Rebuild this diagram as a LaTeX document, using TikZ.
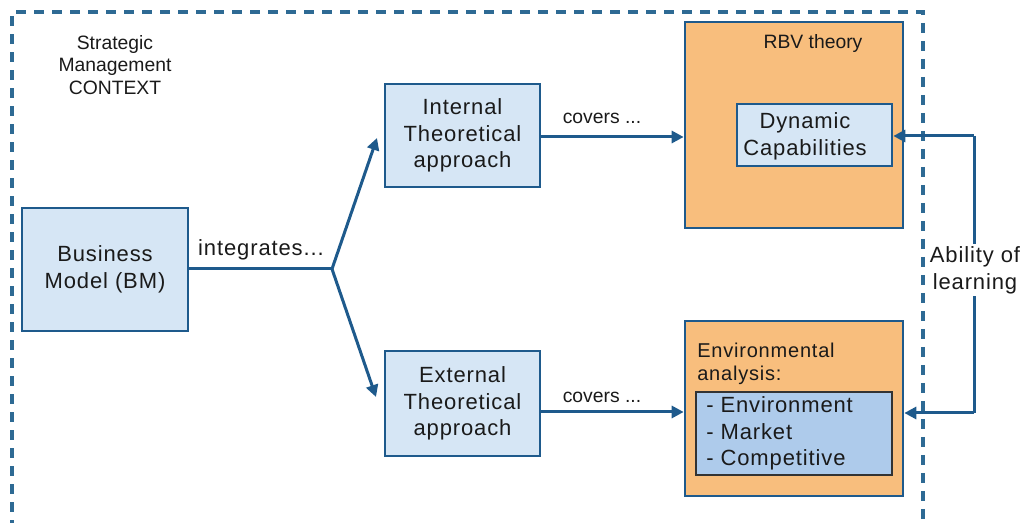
\documentclass[tikz,border=0pt]{standalone}
\usepackage{fontspec}
\setmainfont{Liberation Sans}
\newfontfamily\spacedsans[LetterSpace=4]{Liberation Sans}
\usetikzlibrary{arrows.meta}
\definecolor{lineblue}{HTML}{1E5A8C}
\definecolor{framecol}{HTML}{2E6A94}
\definecolor{boxblue}{HTML}{D6E6F5}
\definecolor{listblue}{HTML}{AECBEB}
\definecolor{rbvorange}{HTML}{F8BE7D}
\definecolor{txt}{HTML}{1A1A1A}
\tikzset{
  px/.style={x=0.75pt,y=-0.75pt},
  bigtext/.style={font=\spacedsans\fontsize{16.5}{20}\selectfont, text=txt},
  smalltext/.style={font=\fontsize{14.5}{17}\selectfont, text=txt},
  midtext/.style={font=\spacedsans\fontsize{15}{17.25}\selectfont, text=txt},
  bluebox/.style={draw=lineblue, line width=2pt, fill=boxblue, bigtext, align=center, inner sep=0pt},
  orangebox/.style={draw=lineblue, line width=2pt, fill=rbvorange, inner sep=0pt},
  listbox/.style={draw=black!80, line width=2pt, fill=listblue, inner sep=0pt},
  conn/.style={draw=lineblue, line width=2.25pt},
  arr/.style={conn, -{Triangle[length=9pt,width=9pt]}},
  frame/.style={draw=framecol, line width=2.5pt, dash pattern=on 7.5pt off 6pt},
}
\begin{document}
\begin{tikzpicture}[px]
\useasboundingbox (0,0) rectangle (1025,523);
% outer context frame
\draw[frame] (12,530) -- (12,12) -- (923,12) -- (923,530);
\node[smalltext, align=center] (ctx) at (115,65) {Strategic\\Management\\CONTEXT};

% main boxes
\node[bluebox, minimum width=124.5pt, minimum height=92.25pt] (biz) at (105,269.5) {Business\\Model (BM)};
\node[bluebox, minimum width=116.25pt, minimum height=77.25pt] (int) at (462.5,135.5) {Internal\\Theoretical\\approach};
\node[bluebox, minimum width=116.25pt, minimum height=78.75pt] (ext) at (462.5,403.5) {External\\Theoretical\\approach};

\node[orangebox, minimum width=163.5pt, minimum height=154.5pt] (rbv) at (794,125) {};
\node[smalltext] (rbvlab) at (813,44) {RBV theory};
\node[bluebox, minimum width=116.25pt, minimum height=46.5pt] (dyn) at (814.5,135) {};
\node[bigtext, align=center] (dyntxt) at (805,136) {Dynamic\\Capabilities};

\node[orangebox, minimum width=163.5pt, minimum height=131.25pt] (env) at (794,408.5) {};
\node[midtext, align=left, anchor=west, inner sep=0pt] (envlab) at (697,363.5) {Environmental\\analysis:};
\node[listbox, minimum width=147pt, minimum height=62.25pt] (lst) at (794,433.5) {};
\node[bigtext, align=left, anchor=west, inner sep=0pt] (lsttxt) at (706,433.5) {- Environment\\- Market\\- Competitive};

% integration branches
\coordinate (j) at (332,269);
\coordinate (jup) at (377,138);
\coordinate (jdn) at (376,397);
\draw[conn] (biz.east |- j) -- (j);
\draw[arr] (j) -- (jup);
\draw[arr] (j) -- (jdn);
\node[bigtext] (integ) at (261,250) {integrates...};

% covers arrows
\coordinate (iy) at (0,137);
\coordinate (ey) at (0,412);
\draw[arr] (int.east |- iy) -- (rbv.west |- iy);
\draw[arr] (ext.east |- ey) -- (env.west |- ey);
\node[smalltext] (cov1) at (602,118) {covers ...};
\node[smalltext] (cov2) at (602,397) {covers ...};

% learning loop
\coordinate (r1) at (974,136);
\coordinate (r2) at (974,413);
\draw[conn] (r1) -- (r2);
\draw[arr] (r1) -- (dyn.east |- r1);
\draw[arr] (r2) -- (env.east |- r2);
\node[bigtext, fill=white, align=center, inner sep=2pt] (learn) at (975,270) {Ability of\\learning};
\end{tikzpicture}
\end{document}
